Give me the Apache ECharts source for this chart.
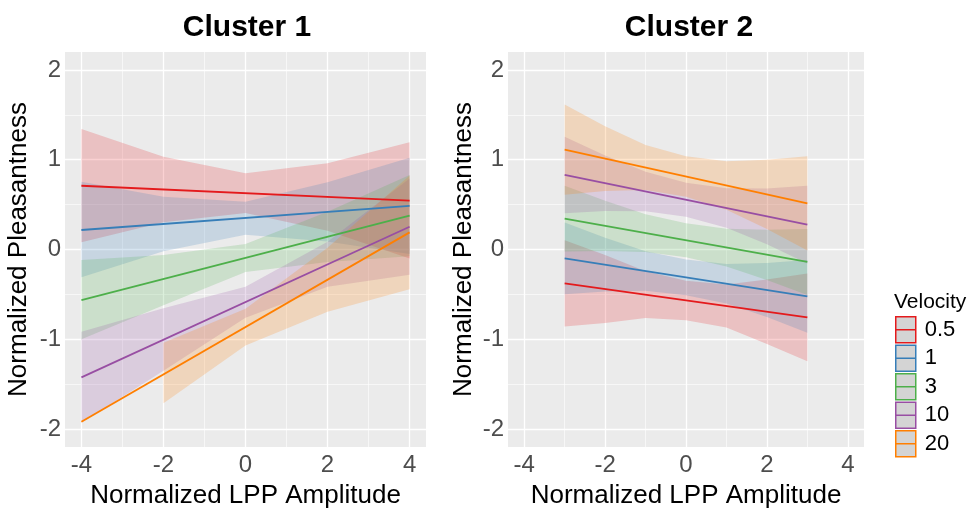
<!DOCTYPE html>
<html>
<head>
<meta charset="utf-8">
<script src="https://cdn.jsdelivr.net/npm/echarts@6/dist/echarts.min.js"></script>
<style>
  html, body { margin: 0; padding: 0; background: #fff; }
  #chart { width: 969px; height: 510px; }
</style>
</head>
<body>
<div id="chart"></div>
<script>
// groups
const velocities = ['0.5', '1', '3', '10', '20']
const colors = ['#E41A1C', '#377EB8', '#4DAF4A', '#984EA3', '#FF7F00']

// tick values
const xTicks = [-4, -2, 0, 2, 4]
const yTicks = [-2, -1, 0, 1, 2]
const xMinor = [-3, -1, 1, 3]
const yMinor = [-1.5, -0.5, 0.5, 1.5]

// Cluster 1: fitted lines (ends) and ribbon (lower / upper)
const c1LineX = [-4, 4]
const c1Line = [
  [0.71, 0.545],
  [0.217, 0.485],
  [-0.563, 0.377],
  [-1.424, 0.254],
  [-1.918, 0.191]
]
const c1BandX = [-4, -2, 0, 2, 4]
const c1Lo = [
  [0.08, 0.304, 0.407, 0.21, -0.10],
  [-0.31, -0.02, 0.163, 0.09, -0.05],
  [-1.0, -0.62, -0.25, -0.14, -0.076],
  [-1.93, -1.35, -0.76, -0.414, -0.28],
  [null, -1.714, -1.07, -0.693, -0.443]
]
const c1Hi = [
  [1.343, 1.034, 0.849, 0.96, 1.194],
  [0.756, 0.588, 0.533, 0.75, 1.023],
  [-0.117, -0.06, 0.06, 0.42, 0.83],
  [-0.916, -0.655, -0.414, 0.085, 0.79],
  [null, -1.038, -0.66, 0.02, 0.825]
]

// Cluster 2
const c2LineX = [-3, 3]
const c2Line = [
  [-0.377, -0.756],
  [-0.098, -0.522],
  [0.344, -0.139],
  [0.83, 0.277],
  [1.112, 0.514]
]
const c2BandX = [-3, -2, -1, 0, 1, 2, 3]
const c2Lo = [
  [-0.857, -0.82, -0.763, -0.787, -0.87, -1.053, -1.244],
  [-0.498, -0.469, -0.459, -0.51, -0.601, -0.751, -0.928],
  [-0.023, -0.016, -0.027, -0.087, -0.188, -0.339, -0.506],
  [0.403, 0.428, 0.426, 0.364, 0.241, 0.059, -0.157],
  [0.61, 0.652, 0.662, 0.588, 0.444, 0.228, -0.01]
]
const c2Hi = [
  [0.103, -0.06, -0.243, -0.347, -0.39, -0.333, -0.268],
  [0.302, 0.131, -0.019, -0.11, -0.161, -0.151, -0.116],
  [0.711, 0.544, 0.393, 0.293, 0.232, 0.221, 0.228],
  [1.257, 1.048, 0.866, 0.744, 0.681, 0.679, 0.711],
  [1.614, 1.372, 1.164, 1.038, 0.982, 1.0, 1.038]
]

const font = 'Liberation Sans, Arial, sans-serif'

// confidence band as one polygon, drawn through the axes
function ribbon(gi, k, xs, lo, hi) {
  const pts = xs.map((x, i) => [x, lo[i], hi[i]]).filter(p => p[1] != null)
  return {
    type: 'custom', name: 'band' + gi + k, xAxisIndex: gi, yAxisIndex: gi,
    silent: true, z: 2,
    encode: { x: 0, y: [1, 2] },
    data: pts,
    renderItem: function (params, api) {
      if (params.dataIndex !== 0) return null
      const top = pts.map(p => api.coord([p[0], p[2]]))
      const bottom = pts.map(p => api.coord([p[0], p[1]])).reverse()
      return {
        type: 'polygon',
        shape: { points: top.concat(bottom) },
        style: { fill: colors[k], opacity: 0.2 }
      }
    }
  }
}

function gridLines(gi) {
  const data = []
  yTicks.forEach(v => data.push({ yAxis: v, lineStyle: { color: '#fff', width: 1.3, type: 'solid' } }))
  yMinor.forEach(v => data.push({ yAxis: v, lineStyle: { color: '#fff', width: 0.6, type: 'solid' } }))
  xTicks.forEach(v => data.push({ xAxis: v, lineStyle: { color: '#fff', width: 1.3, type: 'solid' } }))
  xMinor.forEach(v => data.push({ xAxis: v, lineStyle: { color: '#fff', width: 0.6, type: 'solid' } }))
  return {
    type: 'line', name: 'grid' + gi, xAxisIndex: gi, yAxisIndex: gi,
    data: [], silent: true,
    markLine: { silent: true, z: 1, symbol: ['none', 'none'], label: { show: false }, animation: false, data: data }
  }
}

const series = []
;[0, 1].forEach(gi => {
  series.push(gridLines(gi))
  const bx = gi === 0 ? c1BandX : c2BandX
  const lo = gi === 0 ? c1Lo : c2Lo
  const hi = gi === 0 ? c1Hi : c2Hi
  velocities.forEach((v, k) => {
    series.push(ribbon(gi, k, bx, lo[k], hi[k]))
  })
  const lx = gi === 0 ? c1LineX : c2LineX
  const ly = gi === 0 ? c1Line : c2Line
  velocities.forEach((v, k) => {
    series.push({
      type: 'line', name: v, xAxisIndex: gi, yAxisIndex: gi,
      data: lx.map((x, i) => [x, ly[k][i]]),
      symbol: 'none', z: 3,
      itemStyle: { color: colors[k] },
      lineStyle: { color: colors[k], width: 1.8 }
    })
  })
})

function xAxis(gi) {
  return {
    type: 'value', gridIndex: gi, min: -4.4, max: 4.4,
    axisLine: { show: false },
    axisTick: { customValues: xTicks, length: 4, lineStyle: { color: '#333', width: 1 } },
    axisLabel: { customValues: xTicks, fontSize: 24, color: '#4D4D4D', margin: 6, fontFamily: font },
    splitLine: { show: false },
    name: 'Normalized LPP Amplitude', nameLocation: 'middle', nameGap: 36,
    nameTextStyle: { fontSize: 26, color: '#000', fontFamily: font }
  }
}
function yAxis(gi) {
  return {
    type: 'value', gridIndex: gi, min: -2.2, max: 2.2,
    axisLine: { show: false },
    axisTick: { customValues: yTicks, length: 4, lineStyle: { color: '#333', width: 1 } },
    axisLabel: { customValues: yTicks, fontSize: 24, color: '#4D4D4D', margin: 4, fontFamily: font },
    splitLine: { show: false },
    name: 'Normalized Pleasantness', nameLocation: 'middle', nameGap: gi === 0 ? 33 : 31,
    nameTextStyle: { fontSize: 26, color: '#000', fontFamily: font }
  }
}

const chart = echarts.init(document.getElementById('chart'))
chart.setOption({
  animation: false,
  backgroundColor: '#fff',
  title: [
    { text: 'Cluster 1', left: 247, top: 13, textAlign: 'center', padding: 0,
      textStyle: { fontSize: 30, fontWeight: 'bold', color: '#000', fontFamily: font } },
    { text: 'Cluster 2', left: 689, top: 13, textAlign: 'center', padding: 0,
      textStyle: { fontSize: 30, fontWeight: 'bold', color: '#000', fontFamily: font } },
    { text: 'Velocity', left: 894, top: 292, padding: 0,
      textStyle: { fontSize: 21, fontWeight: 'normal', color: '#000', fontFamily: font } }
  ],
  legend: {
    orient: 'vertical', left: 895, top: 316, padding: 0,
    itemWidth: 20, itemHeight: 26, itemGap: 1, selectedMode: false,
    icon: 'path://M0,0H20V26H0ZM0,13H20',
    textStyle: { fontSize: 22, color: '#000', fontFamily: font, padding: [0, 0, 0, 4] },
    data: velocities.map((v, k) => ({
      name: v,
      itemStyle: { color: '#D4D4D4', borderColor: colors[k], borderWidth: 1.5 }
    }))
  },
  grid: [
    { left: 65, top: 52, width: 361, height: 395, outerBoundsMode: 'none',
      show: true, backgroundColor: '#EBEBEB', borderWidth: 0 },
    { left: 508, top: 52, width: 356, height: 395, outerBoundsMode: 'none',
      show: true, backgroundColor: '#EBEBEB', borderWidth: 0 }
  ],
  xAxis: [xAxis(0), xAxis(1)],
  yAxis: [yAxis(0), yAxis(1)],
  series: series
})
</script>
</body>
</html>
